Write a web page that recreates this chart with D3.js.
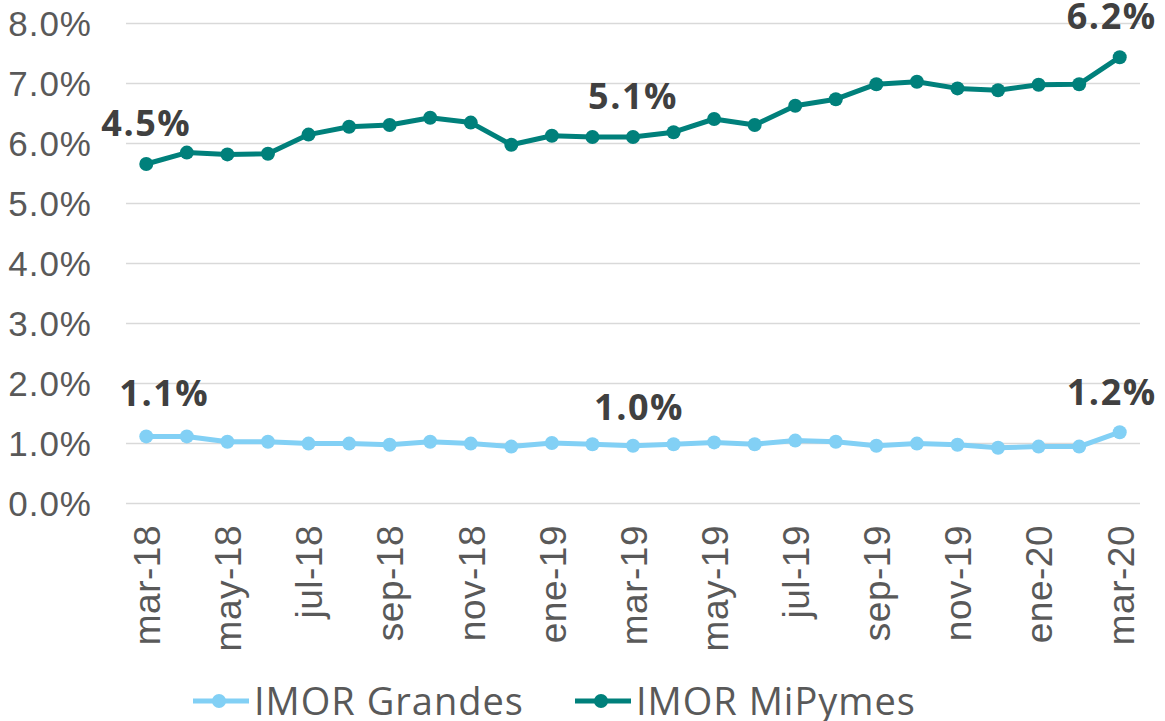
<!DOCTYPE html>
<html lang="es">
<head>
<meta charset="UTF-8">
<title>IMOR Grandes vs MiPymes</title>
<script src="https://d3js.org/d3.v7.min.js"></script>
<style>
    body { margin: 0; background: #fff; }
    svg { display: block; font-family: "Open Sans", sans-serif; }
    .grid line { stroke: #d9d9d9; stroke-width: 1.5; }
    .grid .domain { display: none; }
    .y-axis text { fill: #595959; font-size: 35px; letter-spacing: 1px; }
    .x-axis text { fill: #595959; font-size: 37px; letter-spacing: 0.5px; }
    .data-label { fill: #404040; font-size: 36px; font-weight: 700; letter-spacing: 1.5px; text-anchor: middle; }
    .legend text { fill: #595959; font-size: 38px; letter-spacing: 1px; }
</style>
</head>
<body>
<div id="chart"></div>
<script>
    const months = ["mar-18", "abr-18", "may-18", "jun-18", "jul-18", "ago-18", "sep-18", "oct-18", "nov-18", "dic-18",
        "ene-19", "feb-19", "mar-19", "abr-19", "may-19", "jun-19", "jul-19", "ago-19", "sep-19", "oct-19",
        "nov-19", "dic-19", "ene-20", "feb-20", "mar-20"];

    const grandes = [1.11, 1.11, 1.02, 1.02, 0.99, 0.99, 0.97, 1.02, 0.99, 0.94, 1.00, 0.98, 0.955,
        0.98, 1.01, 0.98, 1.04, 1.02, 0.955, 0.99, 0.97, 0.92, 0.94, 0.94, 1.18];

    const mipymes = [5.65, 5.84, 5.81, 5.82, 6.14, 6.27, 6.30, 6.42, 6.34, 5.97, 6.12, 6.10, 6.10,
        6.18, 6.40, 6.30, 6.62, 6.73, 6.98, 7.02, 6.91, 6.88, 6.97, 6.98, 7.43];

    const yTicks = [0, 1, 2, 3, 4, 5, 6, 7, 8];

    // etiquetas tal como aparecen en el original
    const grandesLabels = [{ i: 0, text: "1.1%" }, { i: 12, text: "1.0%" }, { i: 24, text: "1.2%" }];
    const mipymesLabels = [{ i: 0, text: "4.5%" }, { i: 12, text: "5.1%" }, { i: 24, text: "6.2%" }];

    const series = [
        { name: "IMOR Grandes", values: grandes, color: "#82d0f5", labels: grandesLabels, dx: [18, 6, -8], dy: [-30, -26, -27] },
        { name: "IMOR MiPymes", values: mipymes, color: "#00807b", labels: mipymesLabels, dx: [0, 0, -8], dy: [-28, -28, -28] }
    ];

    const width = 1165, height = 721;
    const margin = { top: 23, right: 25, bottom: 218, left: 126 };

    const svg = d3.select("#chart").append("svg")
        .attr("width", width)
        .attr("height", height);

    const x = d3.scalePoint()
        .domain(months)
        .range([margin.left, width - margin.right])
        .padding(0.5);

    const y = d3.scaleLinear()
        .domain([0, 8])
        .range([height - margin.bottom, margin.top]);

    // gridlines
    svg.append("g")
        .attr("class", "grid")
        .attr("transform", `translate(${margin.left},0)`)
        .call(d3.axisLeft(y).tickValues(yTicks).tickSize(-(width - margin.left - margin.right)).tickFormat(""));

    // eje y
    const yAxis = svg.append("g")
        .attr("class", "y-axis")
        .attr("transform", `translate(${margin.left - 34},0)`)
        .call(d3.axisLeft(y).tickValues(yTicks).tickSize(0).tickPadding(0).tickFormat(d => d.toFixed(1) + "%"));
    yAxis.select(".domain").remove();
    yAxis.selectAll("text").attr("dy", "0.36em");

    // eje x
    const xAxis = svg.append("g")
        .attr("class", "x-axis")
        .attr("transform", `translate(0,${height - margin.bottom})`)
        .call(d3.axisBottom(x).tickValues(months.filter((d, i) => i % 2 === 0)).tickSize(0));
    xAxis.select(".domain").remove();
    xAxis.selectAll("text")
        .attr("transform", "rotate(-90)")
        .attr("text-anchor", "end")
        .attr("x", -22)
        .attr("y", 0)
        .attr("dy", "0.36em");

    const line = d3.line()
        .x((d, i) => x(months[i]))
        .y(d => y(d));

    series.forEach(s => {
        svg.append("path")
            .datum(s.values)
            .attr("fill", "none")
            .attr("stroke", s.color)
            .attr("stroke-width", 5)
            .attr("stroke-linejoin", "round")
            .attr("d", line);

        svg.append("g")
            .selectAll("circle")
            .data(s.values)
            .join("circle")
            .attr("cx", (d, i) => x(months[i]))
            .attr("cy", d => y(d))
            .attr("r", 7)
            .attr("fill", s.color);

        svg.append("g")
            .selectAll("text")
            .data(s.labels)
            .join("text")
            .attr("class", "data-label")
            .attr("x", (d, k) => x(months[d.i]) + s.dx[k])
            .attr("y", (d, k) => y(s.values[d.i]) + s.dy[k])
            .text(d => d.text);
    });

    // leyenda
    const legendItems = [{ s: series[0], x: 193 }, { s: series[1], x: 575 }];
    const legend = svg.append("g").attr("class", "legend");
    legendItems.forEach(item => {
        const g = legend.append("g").attr("transform", `translate(${item.x},701)`);
        g.append("line")
            .attr("x1", 0).attr("x2", 56)
            .attr("stroke", item.s.color)
            .attr("stroke-width", 5);
        g.append("circle")
            .attr("cx", 26).attr("r", 7)
            .attr("fill", item.s.color);
        g.append("text")
            .attr("x", 61)
            .attr("dy", "0.36em")
            .text(item.s.name);
    });
</script>
</body>
</html>
